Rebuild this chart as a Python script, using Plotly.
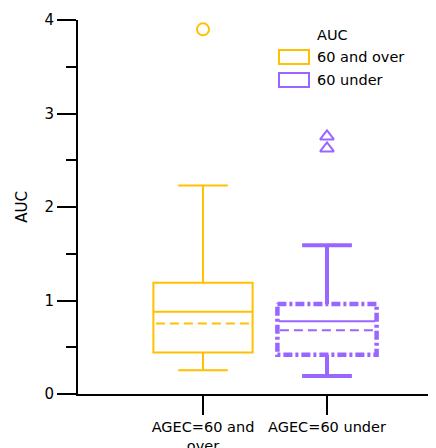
import plotly.graph_objects as go

# ---- data ----
categories = ["AGEC=60 and<br>over", "AGEC=60 under"]
series_names = ["60 and over", "60 under"]
legend_title = "AUC"
q1 = [0.443, 0.421]
median = [0.88, 0.777]
q3 = [1.19, 0.962]
mean = [0.753, 0.681]
lower_fence = [0.253, 0.192]
upper_fence = [2.23, 1.59]
outliers = [[3.90], [2.755, 2.626]]
y_ticks = [0, 1, 2, 3, 4]

# ---- style ----
colors = ["#FFC000", "#9966FF"]
BOX_W = 0.8
WHISK_W = 0.5
FONT = "DejaVu Sans"
W, H = 436, 448
OFF = 8  # page body margin offset
ML, MR, MT, MB = 78 - OFF, OFF, 20 - OFF, 54 + OFF

fig = go.Figure()
positions = list(range(len(categories)))

for i, pos in enumerate(positions):
    fig.add_trace(go.Box(
        x=[pos], q1=[q1[i]], median=[median[i]], q3=[q3[i]],
        lowerfence=[lower_fence[i]], upperfence=[upper_fence[i]],
        name=series_names[i], width=BOX_W, whiskerwidth=WHISK_W,
        line=dict(color=colors[i], width=2), fillcolor="rgba(0,0,0,0)",
        boxpoints=False, hoverinfo="skip", showlegend=False,
    ))

# purple series: thick dash-dot outline and thick whiskers
i = 1
pos = positions[i]
xl, xr = pos - BOX_W / 2, pos + BOX_W / 2
cl, cr = pos - BOX_W * WHISK_W / 2, pos + BOX_W * WHISK_W / 2
rect_x = [xl, xr, xr, xl, xl]
rect_y = [q3[i], q3[i], q1[i], q1[i], q3[i]]
fig.add_trace(go.Scatter(x=rect_x, y=rect_y, mode="lines",
                         line=dict(color="white", width=3),
                         showlegend=False, hoverinfo="skip"))
fig.add_trace(go.Scatter(x=rect_x, y=rect_y, mode="lines",
                         line=dict(color=colors[i], width=4.5, dash="9px,3px,3px,3px"),
                         showlegend=False, hoverinfo="skip"))
fig.add_trace(go.Scatter(
    x=[pos, pos, None, cl, cr, None, pos, pos, None, cl, cr],
    y=[q3[i], upper_fence[i], None, upper_fence[i], upper_fence[i], None,
       q1[i], lower_fence[i], None, lower_fence[i], lower_fence[i]],
    mode="lines", line=dict(color=colors[i], width=4),
    showlegend=False, hoverinfo="skip"))

# mean lines (dashed)
for i, pos in enumerate(positions):
    fig.add_trace(go.Scatter(
        x=[pos - BOX_W / 2 + 0.02, pos + BOX_W / 2 - 0.02], y=[mean[i], mean[i]],
        mode="lines", line=dict(color=colors[i], width=2, dash="9px,5px"),
        showlegend=False, hoverinfo="skip"))

# outliers
symbols = ["circle-open", "triangle-up-open"]
for i, pos in enumerate(positions):
    fig.add_trace(go.Scatter(
        x=[pos] * len(outliers[i]), y=outliers[i], mode="markers",
        marker=dict(symbol=symbols[i], size=12, color=colors[i],
                    line=dict(color=colors[i], width=2)),
        showlegend=False, hoverinfo="skip"))

# ---- legend drawn in paper coordinates (window pixel positions) ----
pw, ph = W - ML - MR, H - MT - MB
def px_x(p):
    return (p - OFF - ML) / pw
def px_y(p):
    return (H - MB - (p - OFF)) / ph

shapes = []
annotations = [dict(text=legend_title, x=px_x(315), y=px_y(35), xref="paper", yref="paper",
                    xanchor="left", yanchor="middle", showarrow=False,
                    font=dict(size=14.5, family=FONT, color="black"))]
item_centers = [57, 80]
for i, name in enumerate(series_names):
    cy = item_centers[i]
    shapes.append(dict(type="rect", xref="paper", yref="paper",
                       x0=px_x(279), x1=px_x(309), y0=px_y(cy - 7), y1=px_y(cy + 7),
                       line=dict(color=colors[i], width=2), fillcolor="rgba(0,0,0,0)"))
    annotations.append(dict(text=name, x=px_x(315), y=px_y(cy), xref="paper", yref="paper",
                            xanchor="left", yanchor="middle", showarrow=False,
                            font=dict(size=14.5, family=FONT, color="black")))

fig.update_layout(
    width=W, height=H,
    margin=dict(l=ML, r=MR, t=MT, b=MB, autoexpand=False),
    paper_bgcolor="white", plot_bgcolor="white",
    font=dict(family=FONT, size=14, color="black"),
    showlegend=False,
    shapes=shapes, annotations=annotations,
)
fig.update_xaxes(
    range=[-1.008, 1.879], tickvals=positions, ticktext=categories,
    showline=True, linecolor="black", linewidth=2,
    ticks="outside", ticklen=19, tickwidth=1.5, tickcolor="black",
    showgrid=False, zeroline=False, tickfont=dict(size=14.5), automargin=False,
)
fig.update_yaxes(
    range=[0, 4], tickvals=y_ticks,
    showline=True, linecolor="black", linewidth=2,
    ticks="outside", ticklen=19, tickwidth=1.5, tickcolor="black",
    minor=dict(dtick=0.5, ticks="outside", ticklen=10, tickwidth=1.5, tickcolor="black"),
    showgrid=False, zeroline=False, tickfont=dict(size=15), automargin=False,
    title=dict(text="AUC", font=dict(size=15), standoff=13),
)

fig.write_html("out.html")
